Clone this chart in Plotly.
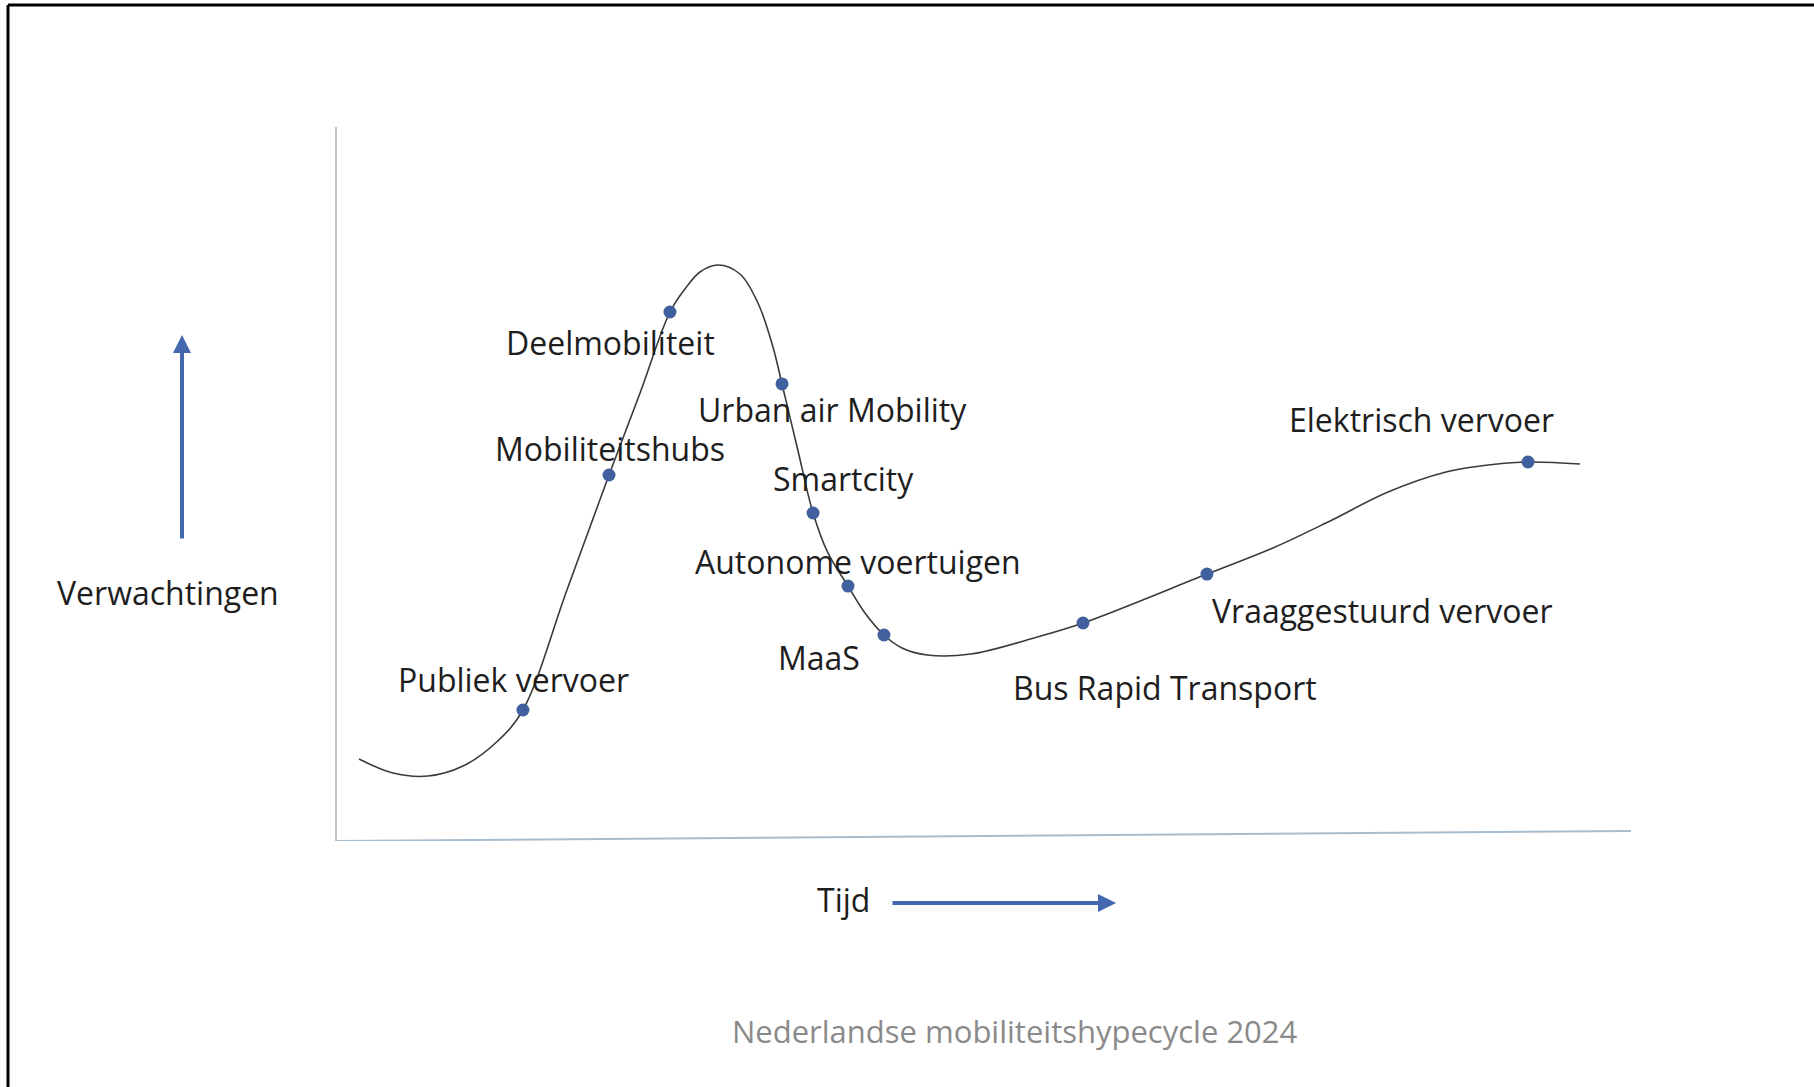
import plotly.graph_objects as go

# hype curve (x = tijd 0-100, y = verwachtingen 0-100)
curve_x = [1.70, 4.33, 7.03, 9.74, 12.36, 14.37, 17.77, 21.02, 23.42, 25.73, 26.89, 28.05,
           29.44, 31.14, 32.53, 33.69, 34.39, 35.63, 36.79, 37.94, 39.49, 40.80, 42.27,
           43.66, 45.60, 49.00, 53.86, 57.65, 67.23, 72.33, 76.74, 81.22, 85.70, 88.33,
           92.04, 96.06]
curve_y = [11.48, 9.52, 9.10, 10.50, 13.90, 18.35, 35.15, 51.26, 62.75, 74.09, 77.31, 79.69,
           80.67, 79.41, 75.35, 69.19, 64.01, 54.62, 45.94, 40.34, 35.71, 31.93, 28.85,
           27.03, 26.05, 26.19, 28.43, 30.53, 37.39, 41.04, 44.82, 48.88, 51.68, 52.52,
           53.08, 52.80]

# technologies on the curve
tech_names = ['Publiek vervoer', 'Mobiliteitshubs', 'Deelmobiliteit', 'Urban air Mobility',
              'Smartcity', 'Autonome voertuigen', 'MaaS', 'Bus Rapid Transport',
              'Vraaggestuurd vervoer', 'Elektrisch vervoer']
tech_x = [14.37, 21.02, 25.73, 34.39, 36.79, 39.49, 42.27, 57.65, 67.23, 92.04]
tech_y = [18.35, 51.26, 74.09, 64.01, 45.94, 35.71, 28.85, 30.53, 37.39, 53.08]

y_label = 'Verwachtingen'
x_label = 'Tijd'
caption = 'Nederlandse mobiliteitshypecycle 2024'

W, H = 1814, 1087
FONT = 'Open Sans'
BLUE = '#4468b0'
TEXT = '#1e1e1e'

# label offsets in px from each dot (layout only)
label_shift = [(-9, 30), (1, 27), (-59, -30), (50, -26), (30, 34),
               (10, 25), (-65, -22), (82, -64), (176, -36), (-107, 43)]

fig = go.Figure()
fig.add_trace(go.Scatter(x=curve_x, y=curve_y, mode='lines', hoverinfo='skip',
                         line=dict(color='#3a3a3a', width=1.6, shape='spline', smoothing=1.0)))
fig.add_trace(go.Scatter(x=tech_x, y=tech_y, mode='markers', text=tech_names, hoverinfo='text',
                         marker=dict(color='#41609e', size=13)))

for name, x, y, (dx, dy) in zip(tech_names, tech_x, tech_y, label_shift):
    fig.add_annotation(x=x, y=y, text=name, showarrow=False, xshift=dx, yshift=dy,
                       xanchor='center', yanchor='middle',
                       font=dict(family=FONT, size=32, color=TEXT))

# tilted x-axis line
fig.add_shape(type='line', xref='x', yref='y', x0=0, y0=0, x1=100, y1=1.4,
              line=dict(color='#a9bccc', width=2))

# frame (top + left)
fig.add_shape(type='line', xref='paper', yref='paper', x0=8 / W, x1=1, y0=1 - 5 / H, y1=1 - 5 / H,
              line=dict(color='black', width=3))
fig.add_shape(type='line', xref='paper', yref='paper', x0=8 / W, x1=8 / W, y0=0, y1=1 - 5 / H,
              line=dict(color='black', width=3))

# axis arrows
fig.add_annotation(xref='paper', yref='paper', x=182 / W, y=1 - 335 / H, ax=0, ay=205, text='',
                   showarrow=True, arrowhead=2, arrowsize=0.9, arrowwidth=4, arrowcolor=BLUE)
fig.add_annotation(xref='paper', yref='paper', x=1116 / W, y=1 - 903 / H, ax=-225, ay=0, text='',
                   showarrow=True, arrowhead=2, arrowsize=0.9, arrowwidth=4, arrowcolor=BLUE)

fig.add_annotation(xref='paper', yref='paper', x=168 / W, y=1 - 592 / H, text=y_label, showarrow=False,
                   xanchor='center', yanchor='middle', font=dict(family=FONT, size=32, color=TEXT))
fig.add_annotation(xref='paper', yref='paper', x=843 / W, y=1 - 899 / H, text=x_label, showarrow=False,
                   xanchor='center', yanchor='middle', font=dict(family=FONT, size=32, color=TEXT))
fig.add_annotation(xref='paper', yref='paper', x=1015 / W, y=1 - 1031 / H, text=caption, showarrow=False,
                   xanchor='center', yanchor='middle', font=dict(family=FONT, size=31, color='#8a8a8a'))

fig.update_layout(width=W, height=H, margin=dict(l=0, r=0, t=0, b=0), showlegend=False,
                  paper_bgcolor='white', plot_bgcolor='white')
fig.update_xaxes(domain=[337 / W, 1631 / W], range=[0, 100], showgrid=False, zeroline=False,
                 showticklabels=False, showline=False)
fig.update_yaxes(domain=[1 - 841 / H, 1 - 127 / H], range=[0, 100], showgrid=False, zeroline=False,
                 showticklabels=False, showline=True, linecolor='#c4c4c4', linewidth=2)

fig.write_html('out.html', config={'displayModeBar': False},
               post_script="document.body.style.margin='0';document.body.style.overflow='hidden';")
